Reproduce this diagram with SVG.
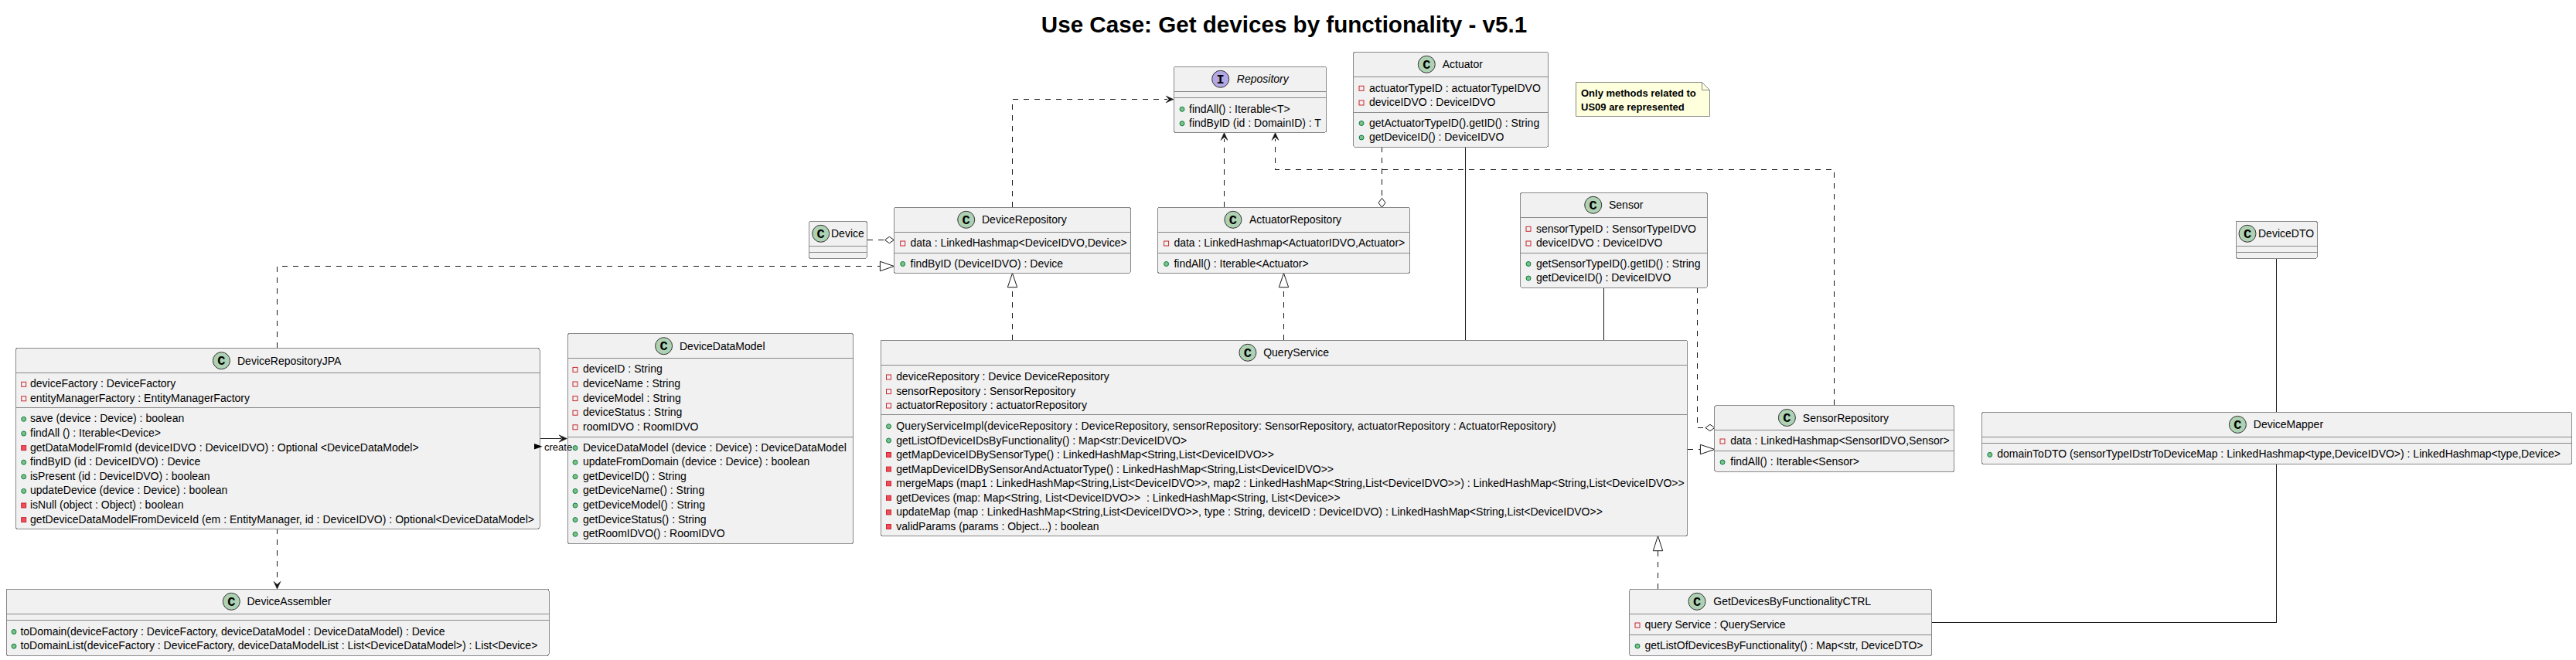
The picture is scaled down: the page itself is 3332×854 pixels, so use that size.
<svg xmlns="http://www.w3.org/2000/svg" width="3332" height="854" viewBox="0 0 3332 854">
<style>
text{font-family:"Liberation Sans",Arial,sans-serif;font-size:14px;fill:#000;white-space:pre}
.t{font-size:29.6px;font-weight:bold}
.b{fill:#F1F1F1;stroke:#888;stroke-width:1;shape-rendering:crispEdges}
.s{stroke:#888;stroke-width:1;fill:none;shape-rendering:crispEdges}
.cc{fill:#ADD1B2;stroke:#333;stroke-width:1}
.ci{fill:#B4A7E5;stroke:#333;stroke-width:1}
.g{font-family:"Liberation Mono",monospace;font-size:17px;font-weight:bold;text-anchor:middle}
.c{fill:none;stroke:#181818;stroke-width:1;shape-rendering:crispEdges}
.d{stroke-dasharray:7,7}
.h{fill:#181818;stroke:#181818;stroke-width:.5}
.o{fill:#fff;stroke:#181818;stroke-width:1}
.n{font-size:13px;font-weight:bold}
</style>
<defs>
<rect id="f" x="-3" y="-3" width="6" height="6" fill="none" stroke="#C82930"/>
<rect id="m" x="-3" y="-3" width="6" height="6" fill="#F24D5C" stroke="#C82930"/>
<circle id="p" r="3" fill="#84BE84" stroke="#038048"/>
</defs>
<text class="t" x="1661" y="41.5" text-anchor="middle">Use Case: Get devices by functionality - v5.1</text>
<g id="connectors">
<path class="c d" d="M1309.5 268V128.5H1510"/><polygon class="h" points="1518,128.5 1508,124 1512,128.5 1508,133"/>
<path class="c d" d="M1583.5 268V180"/><polygon class="h" points="1583.5,171.5 1579,181.5 1583.5,177.5 1588,181.5"/>
<path class="c d" d="M2372.5 524V219.5H1649.5V180"/><polygon class="h" points="1649.5,171.5 1645,181.5 1649.5,177.5 1654,181.5"/>
<path class="c d" d="M1121.5 310.5H1144"/><polygon class="o" points="1156.4,310.5 1150.4,306.3 1144.4,310.5 1150.4,314.7"/>
<path class="c d" d="M1787.5 190V256"/><polygon class="o" points="1787.5,268.3 1792,262.3 1787.5,256.3 1783,262.3"/>
<path class="c d" d="M2195.5 372V553.5H2205"/><polygon class="o" points="2217.9,553.5 2211.9,549.3 2205.9,553.5 2211.9,557.7"/>
<path class="c d" d="M358.5 450V344.5H1138"/><polygon class="o" points="1156.4,344.5 1138.4,338.3 1138.4,350.7"/>
<path class="c d" d="M1309.5 440V371.7"/><polygon class="o" points="1309.5,353.5 1303.3,371.7 1315.7,371.7"/>
<path class="c d" d="M1660.5 440V371.7"/><polygon class="o" points="1660.5,353.5 1654.3,371.7 1666.7,371.7"/>
<path class="c d" d="M2144.5 762V712.7"/><polygon class="o" points="2144.5,693.5 2138.3,712.7 2150.7,712.7"/>
<path class="c d" d="M2183 581.5H2199"/><polygon class="o" points="2217.9,581.5 2199.4,575.3 2199.4,587.7"/>
<path class="c d" d="M358.5 684V753"/><polygon class="h" points="358.5,762.3 354,752.3 358.5,756.3 363,752.3"/>
<path class="c" d="M698 567.5H726"/><polygon class="h" points="733.5,567.5 723,562.8 727,567.5 723,572.2"/>
<path class="c" d="M1895.5 190V440"/>
<path class="c" d="M2074.5 372V440"/>
<path class="c" d="M2944.5 334V533"/>
<path class="c" d="M2944.5 600V805.5H2498"/>
</g>
<g id="Repository">
<rect class="b" x="1518.4" y="86.3" width="197.1" height="85" rx="2.5"/>
<path class="s" d="M1518.4 118.3H1715.5M1518.4 126.3H1715.5"/>
<circle class="ci" cx="1578.7" cy="102.3" r="11"/><text class="g" x="1578.7" y="108">I</text>
<text x="1599.8" y="107.3" font-style="italic">Repository</text>
<use href="#p" x="1529" y="141.3"/><text x="1538" y="145.5">findAll() : Iterable&lt;T&gt;</text>
<use href="#p" x="1529" y="159.8"/><text x="1538" y="164">findByID (id : DomainID) : T</text>
</g>
<g id="Actuator">
<rect class="b" x="1750.6" y="67.3" width="251.9" height="123" rx="2.5"/>
<path class="s" d="M1750.6 99.3H2002.5M1750.6 145.7H2002.5"/>
<circle class="cc" cx="1845.3" cy="83.3" r="11"/><text class="g" x="1845.3" y="89">C</text>
<text x="1865.7" y="88.3">Actuator</text>
<use href="#f" x="1761" y="114.3"/><text x="1771" y="118.5">actuatorTypeID : actuatorTypeIDVO</text>
<use href="#f" x="1761" y="133"/><text x="1771" y="137">deviceIDVO : DeviceIDVO</text>
<use href="#p" x="1761" y="159.5"/><text x="1771" y="163.5">getActuatorTypeID().getID() : String</text>
<use href="#p" x="1761" y="178"/><text x="1771" y="182">getDeviceID() : DeviceIDVO</text>
</g>
<g id="note">
<path d="M2038.5 106.5H2201.5L2211.5 116.5V150.5H2038.5Z" fill="#FEFFDD" stroke="#888" stroke-width="1"/>
<path d="M2201.5 106.5V116.5H2211.5" fill="none" stroke="#888" stroke-width="1"/>
<text class="n" x="2045" y="125">Only methods related to</text>
<text class="n" x="2045" y="142.5">US09 are represented</text>
</g>
<g id="Device">
<rect class="b" x="1046.3" y="286.3" width="75.1" height="48" rx="2.5"/>
<path class="s" d="M1046.3 318.3H1121.4M1046.3 326.3H1121.4"/>
<circle class="cc" cx="1061.7" cy="302.3" r="11"/><text class="g" x="1061.7" y="308">C</text>
<text x="1075" y="307.3">Device</text>
</g>
<g id="DeviceRepository">
<rect class="b" x="1156.4" y="268.3" width="305.9" height="85" rx="2.5"/>
<path class="s" d="M1156.4 300.3H1462.3M1156.4 327.3H1462.3"/>
<circle class="cc" cx="1249.7" cy="284.3" r="11"/><text class="g" x="1249.7" y="290">C</text>
<text x="1270" y="289.3">DeviceRepository</text>
<use href="#f" x="1167.7" y="315"/><text x="1177.5" y="319">data : LinkedHashmap&lt;DeviceIDVO,Device&gt;</text>
<use href="#p" x="1167.7" y="341.5"/><text x="1177.5" y="345.5">findByID (DeviceIDVO) : Device</text>
</g>
<g id="ActuatorRepository">
<rect class="b" x="1497.4" y="268.3" width="326.2" height="85" rx="2.5"/>
<path class="s" d="M1497.4 300.3H1823.6M1497.4 327.3H1823.6"/>
<circle class="cc" cx="1594.9" cy="284.3" r="11"/><text class="g" x="1594.9" y="290">C</text>
<text x="1616" y="289.3">ActuatorRepository</text>
<use href="#f" x="1508.6" y="315"/><text x="1518.4" y="319">data : LinkedHashmap&lt;ActuatorIDVO,Actuator&gt;</text>
<use href="#p" x="1508.6" y="341.5"/><text x="1518.4" y="345.5">findAll() : Iterable&lt;Actuator&gt;</text>
</g>
<g id="Sensor">
<rect class="b" x="1966.7" y="249.3" width="241.7" height="123" rx="2.5"/>
<path class="s" d="M1966.7 281.3H2208.4M1966.7 327.7H2208.4"/>
<circle class="cc" cx="2060.7" cy="265.3" r="11"/><text class="g" x="2060.7" y="271">C</text>
<text x="2081" y="270.3">Sensor</text>
<use href="#f" x="1977" y="296.3"/><text x="1987" y="300.5">sensorTypeID : SensorTypeIDVO</text>
<use href="#f" x="1977" y="315"/><text x="1987" y="319">deviceIDVO : DeviceIDVO</text>
<use href="#p" x="1977" y="341.5"/><text x="1987" y="345.5">getSensorTypeID().getID() : String</text>
<use href="#p" x="1977" y="360"/><text x="1987" y="364">getDeviceID() : DeviceIDVO</text>
</g>
<g id="DeviceDTO">
<rect class="b" x="2892" y="286.3" width="105.3" height="48" rx="2.5"/>
<path class="s" d="M2892 318.3H2997.3M2892 326.3H2997.3"/>
<circle class="cc" cx="2907" cy="302.3" r="11"/><text class="g" x="2907" y="308">C</text>
<text x="2921" y="307.3">DeviceDTO</text>
</g>
<g id="DeviceRepositoryJPA">
<rect class="b" x="20" y="450.7" width="678" height="233.6" rx="2.5"/>
<path class="s" d="M20 482.7H698M20 527.3H698"/>
<circle class="cc" cx="286.4" cy="466.7" r="11"/><text class="g" x="286.4" y="472.4">C</text>
<text x="307" y="471.7">DeviceRepositoryJPA</text>
<use href="#f" x="30.7" y="497.3"/><text x="39" y="501.3">deviceFactory : DeviceFactory</text>
<use href="#f" x="30.7" y="515.8"/><text x="39" y="519.8">entityManagerFactory : EntityManagerFactory</text>
<use href="#p" x="30.7" y="542.3"/><text x="39" y="546.3">save (device : Device) : boolean</text>
<use href="#p" x="30.7" y="561"/><text x="39" y="565">findAll () : Iterable&lt;Device&gt;</text>
<use href="#m" x="30.7" y="579.6"/><text x="39" y="583.6">getDataModelFromId (deviceIDVO : DeviceIDVO) : Optional &lt;DeviceDataModel&gt;</text>
<use href="#p" x="30.7" y="598.2"/><text x="39" y="602.2">findByID (id : DeviceIDVO) : Device</text>
<use href="#p" x="30.7" y="616.8"/><text x="39" y="620.8">isPresent (id : DeviceIDVO) : boolean</text>
<use href="#p" x="30.7" y="635.4"/><text x="39" y="639.4">updateDevice (device : Device) : boolean</text>
<use href="#m" x="30.7" y="654"/><text x="39" y="658">isNull (object : Object) : boolean</text>
<use href="#m" x="30.7" y="672.6"/><text x="39" y="676.6" textLength="652" lengthAdjust="spacing">getDeviceDataModelFromDeviceId (em : EntityManager, id : DeviceIDVO) : Optional&lt;DeviceDataModel&gt;</text>
</g>
<g id="DeviceDataModel">
<rect class="b" x="734" y="431.7" width="369.6" height="271.6" rx="2.5"/>
<path class="s" d="M734 463.7H1103.6M734 565.3H1103.6"/>
<circle class="cc" cx="858.6" cy="447.7" r="11"/><text class="g" x="858.6" y="453.4">C</text>
<text x="879" y="452.7">DeviceDataModel</text>
<use href="#f" x="744" y="478.4"/><text x="754" y="482.4">deviceID : String</text>
<use href="#f" x="744" y="497"/><text x="754" y="501">deviceName : String</text>
<use href="#f" x="744" y="515.6"/><text x="754" y="519.6">deviceModel : String</text>
<use href="#f" x="744" y="534.2"/><text x="754" y="538.2">deviceStatus : String</text>
<use href="#f" x="744" y="552.8"/><text x="754" y="556.8">roomIDVO : RoomIDVO</text>
<use href="#p" x="744" y="579.6"/><text x="754" y="583.6">DeviceDataModel (device : Device) : DeviceDataModel</text>
<use href="#p" x="744" y="598.2"/><text x="754" y="602.2">updateFromDomain (device : Device) : boolean</text>
<use href="#p" x="744" y="616.8"/><text x="754" y="620.8">getDeviceID() : String</text>
<use href="#p" x="744" y="635.4"/><text x="754" y="639.4">getDeviceName() : String</text>
<use href="#p" x="744" y="654"/><text x="754" y="658">getDeviceModel() : String</text>
<use href="#p" x="744" y="672.6"/><text x="754" y="676.6">getDeviceStatus() : String</text>
<use href="#p" x="744" y="691.2"/><text x="754" y="695.2">getRoomIDVO() : RoomIDVO</text>
</g>
<g id="createLabel">
<polygon points="691,574 701.5,577.7 691,581.4" fill="#000"/>
<text x="704" y="583" style="font-size:13px">create</text>
</g>
<g id="QueryService">
<rect class="b" x="1139" y="440.3" width="1043.8" height="253" rx="2.5"/>
<path class="s" d="M1139 472.3H2182.8M1139 536.3H2182.8"/>
<circle class="cc" cx="1613.9" cy="456.3" r="11"/><text class="g" x="1613.9" y="462">C</text>
<text x="1634.2" y="461.3">QueryService</text>
<use href="#f" x="1149.5" y="488"/><text x="1159.3" y="492">deviceRepository : Device DeviceRepository</text>
<use href="#f" x="1149.5" y="506.6"/><text x="1159.3" y="510.6">sensorRepository : SensorRepository</text>
<use href="#f" x="1149.5" y="525"/><text x="1159.3" y="529">actuatorRepository : actuatorRepository</text>
<use href="#p" x="1149.5" y="551.7"/><text x="1159.3" y="556" textLength="853.4" lengthAdjust="spacing">QueryServiceImpl(deviceRepository : DeviceRepository, sensorRepository: SensorRepository, actuatorRepository : ActuatorRepository)</text>
<use href="#p" x="1149.5" y="570"/><text x="1159.3" y="574.5">getListOfDeviceIDsByFunctionality() : Map&lt;str:DeviceIDVO&gt;</text>
<use href="#m" x="1149.5" y="588.5"/><text x="1159.3" y="592.8">getMapDeviceIDBySensorType() : LinkedHashMap&lt;String,List&lt;DeviceIDVO&gt;&gt;</text>
<use href="#m" x="1149.5" y="607.1"/><text x="1159.3" y="611.5">getMapDeviceIDBySensorAndActuatorType() : LinkedHashMap&lt;String,List&lt;DeviceIDVO&gt;&gt;</text>
<use href="#m" x="1149.5" y="625.7"/><text x="1159.3" y="630">mergeMaps (map1 : LinkedHashMap&lt;String,List&lt;DeviceIDVO&gt;&gt;, map2 : LinkedHashMap&lt;String,List&lt;DeviceIDVO&gt;&gt;) : LinkedHashMap&lt;String,List&lt;DeviceIDVO&gt;&gt;</text>
<use href="#m" x="1149.5" y="644.3"/><text x="1159.3" y="648.7" xml:space="preserve">getDevices (map: Map&lt;String, List&lt;DeviceIDVO&gt;&gt;  : LinkedHashMap&lt;String, List&lt;Device&gt;&gt;</text>
<use href="#m" x="1149.5" y="662.9"/><text x="1159.3" y="667.3">updateMap (map : LinkedHashMap&lt;String,List&lt;DeviceIDVO&gt;&gt;, type : String, deviceID : DeviceIDVO) : LinkedHashMap&lt;String,List&lt;DeviceIDVO&gt;&gt;</text>
<use href="#m" x="1149.5" y="681.5"/><text x="1159.3" y="685.7">validParams (params : Object...) : boolean</text>
</g>
<g id="SensorRepository">
<rect class="b" x="2217.9" y="524.5" width="309.5" height="86" rx="2.5"/>
<path class="s" d="M2217.9 556.5H2527.4M2217.9 583.5H2527.4"/>
<circle class="cc" cx="2311.4" cy="540.5" r="11"/><text class="g" x="2311.4" y="546.2">C</text>
<text x="2331.8" y="545.5">SensorRepository</text>
<use href="#f" x="2228" y="571"/><text x="2238.3" y="575">data : LinkedHashmap&lt;SensorIDVO,Sensor&gt;</text>
<use href="#p" x="2228" y="598"/><text x="2238.3" y="602">findAll() : Iterable&lt;Sensor&gt;</text>
</g>
<g id="DeviceMapper">
<rect class="b" x="2563.6" y="533.4" width="762.9" height="67.1" rx="2.5"/>
<path class="s" d="M2563.6 565.4H3326.5M2563.6 573.6H3326.5"/>
<circle class="cc" cx="2894.4" cy="549.4" r="11"/><text class="g" x="2894.4" y="555">C</text>
<text x="2914.8" y="554.4">DeviceMapper</text>
<use href="#p" x="2573.8" y="588.4"/><text x="2583.2" y="592.4">domainToDTO (sensorTypeIDstrToDeviceMap : LinkedHashmap&lt;type,DeviceIDVO&gt;) : LinkedHashmap&lt;type,Device&gt;</text>
</g>
<g id="DeviceAssembler">
<rect class="b" x="8" y="762.3" width="702" height="86" rx="2.5"/>
<path class="s" d="M8 794.3H710M8 802.3H710"/>
<circle class="cc" cx="299.3" cy="778.3" r="11"/><text class="g" x="299.3" y="784">C</text>
<text x="319.5" y="783.3">DeviceAssembler</text>
<use href="#p" x="18" y="817.5"/><text x="26.4" y="821.5">toDomain(deviceFactory : DeviceFactory, deviceDataModel : DeviceDataModel) : Device</text>
<use href="#p" x="18" y="836.2"/><text x="26.4" y="840.2">toDomainList(deviceFactory : DeviceFactory, deviceDataModelList : List&lt;DeviceDataModel&gt;) : List&lt;Device&gt;</text>
</g>
<g id="GetDevicesByFunctionalityCTRL">
<rect class="b" x="2107.9" y="762.3" width="390.5" height="86.5" rx="2.5"/>
<path class="s" d="M2107.9 794.3H2498.4M2107.9 821.3H2498.4"/>
<circle class="cc" cx="2195" cy="778.3" r="11"/><text class="g" x="2195" y="784">C</text>
<text x="2216.3" y="783.3">GetDevicesByFunctionalityCTRL</text>
<use href="#f" x="2118" y="809"/><text x="2127.5" y="813">query Service : QueryService</text>
<use href="#p" x="2118" y="836"/><text x="2127.5" y="840">getListOfDevicesByFunctionality() : Map&lt;str, DeviceDTO&gt;</text>
</g>
</svg>
